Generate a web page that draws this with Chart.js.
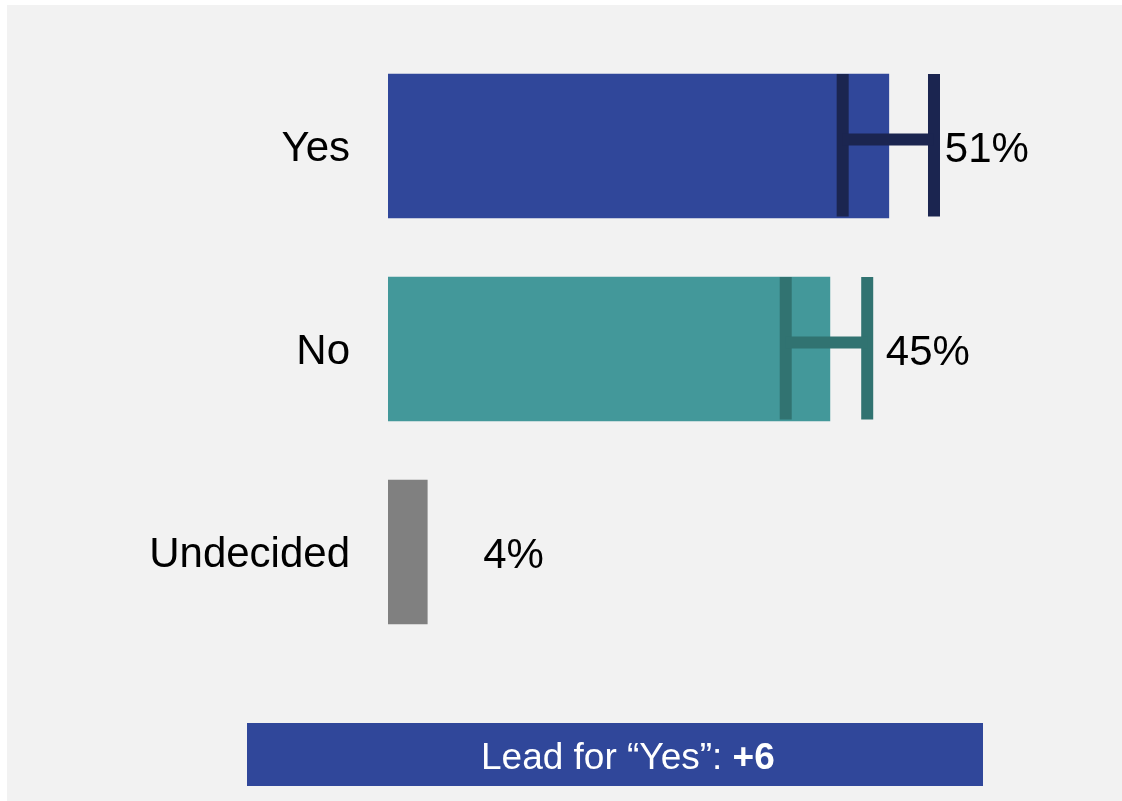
<!DOCTYPE html>
<html>
<head>
<meta charset="utf-8">
<script src="https://cdn.jsdelivr.net/npm/chart.js@4/dist/chart.umd.min.js"></script>
<style>
  html, body { margin: 0; padding: 0; background: #ffffff; }
  #wrap { position: relative; width: 1122px; height: 801px; }
  canvas { display: block; }
</style>
</head>
<body>
<div id="wrap"><canvas id="c" width="1122" height="801"></canvas></div>
<script>
// ---- data ----
const categories = ["Yes", "No", "Undecided"];
const values = [51, 45, 4];
const errLow = [46.3, 40.5, null];
const errHigh = [55.6, 48.8, null];
const valueLabels = ["51%", "45%", "4%"];
const leadText = "Lead for \u201CYes\u201D: ";
const leadValue = values[0] - values[1];

// ---- styles ----
const barColors = ["#30479A", "#43989A", "#808080"];
const errColors = ["#1B2550", "#317371", null];
const FONT = "'Liberation Sans', Arial, sans-serif";

const panelPlugin = {
  id: 'panel',
  beforeDraw(chart) {
    const ctx = chart.ctx;
    ctx.save();
    ctx.fillStyle = '#ffffff';
    ctx.fillRect(0, 0, chart.width, chart.height);
    ctx.fillStyle = '#F2F2F2';
    ctx.fillRect(7, 5, chart.width - 7, chart.height - 5);
    ctx.restore();
  }
};

const overlayPlugin = {
  id: 'overlay',
  afterDatasetsDraw(chart) {
    const ctx = chart.ctx;
    const xs = chart.scales.x;
    const ys = chart.scales.y;
    const meta = chart.getDatasetMeta(0);
    ctx.save();
    // category labels
    ctx.fillStyle = '#000000';
    ctx.font = '42px ' + FONT;
    ctx.textAlign = 'right';
    ctx.textBaseline = 'alphabetic';
    chart.data.labels.forEach((lab, i) => {
      ctx.fillText(lab, chart.chartArea.left - 38, ys.getPixelForValue(i) + 15);
    });
    meta.data.forEach((bar, i) => {
      const cy = bar.y;
      const h = bar.height;
      const top = cy - h / 2;
      const bottom = cy + h / 2 - 1.5;
      if (errLow[i] != null && errHigh[i] != null) {
        const xl = xs.getPixelForValue(errLow[i]);
        const xh = xs.getPixelForValue(errHigh[i]);
        ctx.fillStyle = errColors[i];
        const w = 12;
        ctx.fillRect(xl - w / 2, top, w, bottom - top);
        ctx.fillRect(xh - w / 2, top, w, bottom - top);
        ctx.fillRect(xl, cy - 6.5 - w / 2, xh - xl, w);
      }
      // value label
      ctx.fillStyle = '#000000';
      ctx.font = '42px ' + FONT;
      ctx.textAlign = 'left';
      ctx.textBaseline = 'alphabetic';
      ctx.fillText(valueLabels[i], xs.getPixelForValue(values[i] + 5.7), cy + 15.5);
    });
    // lead box
    ctx.fillStyle = '#30479A';
    ctx.fillRect(247, 723, 736, 63);
    ctx.fillStyle = '#ffffff';
    ctx.textAlign = 'left';
    ctx.textBaseline = 'alphabetic';
    ctx.font = '37px ' + FONT;
    const x0 = 481;
    ctx.fillText(leadText, x0, 769);
    const w1 = ctx.measureText(leadText).width;
    ctx.font = 'bold 37px ' + FONT;
    ctx.fillText('+' + leadValue, x0 + w1, 769);
    ctx.restore();
  }
};

new Chart(document.getElementById('c'), {
  type: 'bar',
  data: {
    labels: categories,
    datasets: [{
      data: values,
      backgroundColor: barColors,
      borderWidth: 0,
      barThickness: 144
    }]
  },
  options: {
    indexAxis: 'y',
    responsive: false,
    animation: false,
    devicePixelRatio: 1,
    layout: { padding: { left: 0, right: 46.6, top: 44.5, bottom: 147.5 } },
    plugins: { legend: { display: false }, tooltip: { enabled: false } },
    scales: {
      x: { display: false, min: 0, max: 70 },
      y: {
        grid: { display: false, drawTicks: false },
        border: { display: false },
        ticks: { display: false },
        afterFit(scale) { scale.width = 388; }
      }
    }
  },
  plugins: [panelPlugin, overlayPlugin]
});
</script>
</body>
</html>
